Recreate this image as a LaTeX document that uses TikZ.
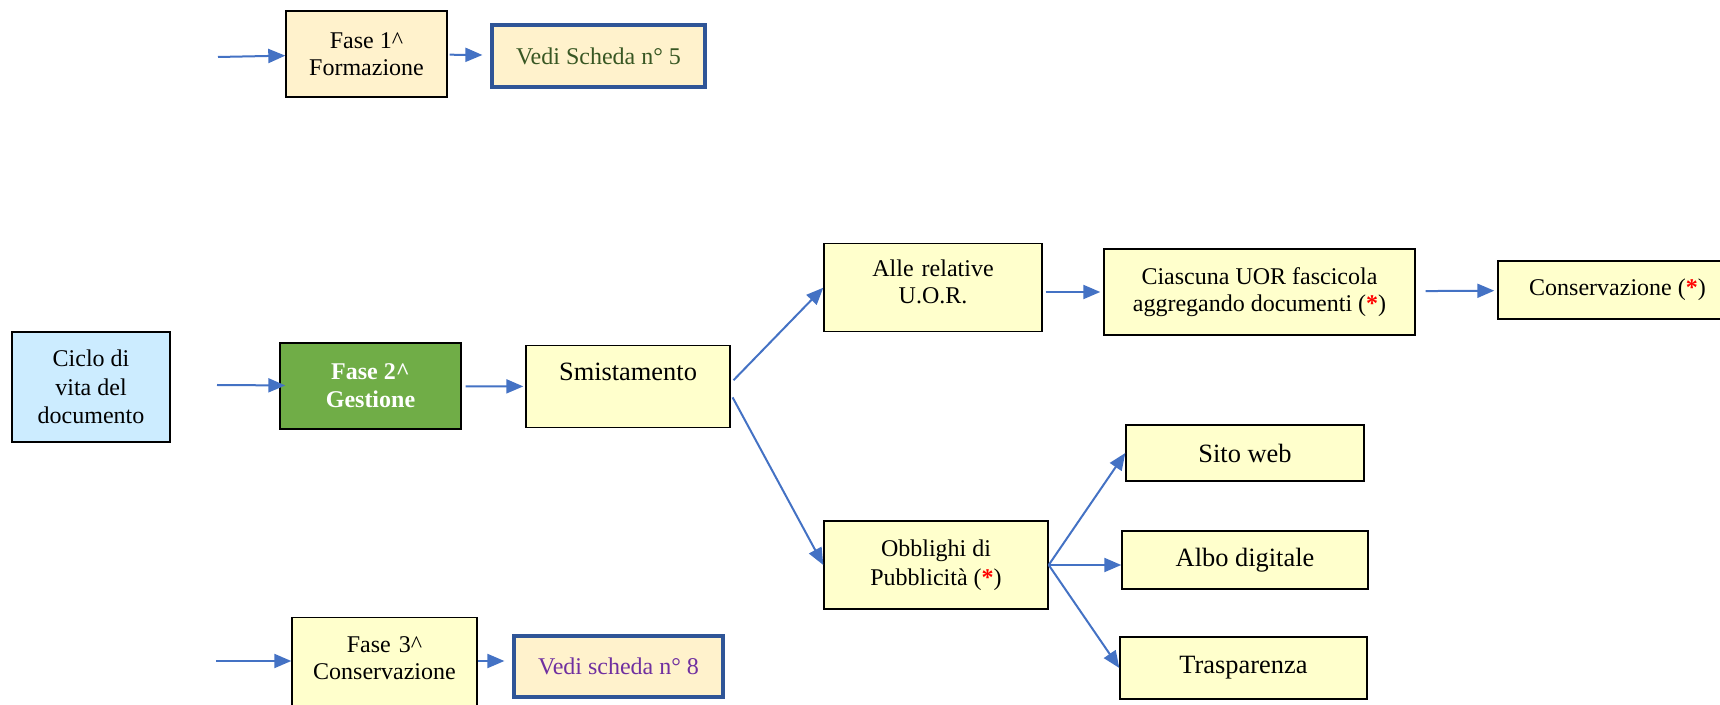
\documentclass[tikz,border=0pt]{standalone}
\usepackage{fontspec}
\setmainfont{Liberation Serif}
\usetikzlibrary{arrows.meta}

\definecolor{cream}{HTML}{FFF2CC}
\definecolor{paleyellow}{HTML}{FFFFCC}
\definecolor{paleblue}{HTML}{CCECFF}
\definecolor{fasegreen}{HTML}{70AD47}
\definecolor{arrowblue}{HTML}{4472C4}
\definecolor{frameblue}{HTML}{2F5597}
\definecolor{schedagreen}{HTML}{385723}
\definecolor{schedapurple}{HTML}{7030A0}
\newcommand{\redstar}{\textcolor{red}{\textbf{*}}}

\begin{document}
\begin{tikzpicture}[x=0.5pt, y=-0.5pt,
    box/.style={draw=black, line width=0.7pt, fill=paleyellow, align=center,
        inner sep=0pt, font=\fontsize{12}{13.5}\selectfont},
    bigbox/.style={box, font=\fontsize{13.2}{15}\selectfont},
    schedabox/.style={box, fill=cream, draw=frameblue, line width=1.6pt},
    flow/.style={draw=arrowblue, line width=1pt, -{Triangle[length=8.5pt, width=7pt]}}]

    \useasboundingbox (0,0) rectangle (1720,705);

    % Fase 1
    \coordinate (in1) at (218,57);
    \node[box, fill=cream, minimum width=80.5pt, minimum height=43pt] (fase1) at (366.5,54) {Fase 1\textasciicircum\\Formazione};
    \node[schedabox, text=schedagreen, minimum width=106.5pt, minimum height=31pt] (scheda5) at (598.5,56) {Vedi Scheda n° 5};

    % Fase 2
    \node[box, fill=paleblue, minimum width=79pt, minimum height=55pt, font=\fontsize{12}{14.25}\selectfont] (ciclo) at (91,387) {Ciclo di\\vita del\\documento};
    \coordinate (in2) at (217,385);
    \node[box, fill=fasegreen, text=white, font=\fontsize{12}{14}\selectfont\bfseries, minimum width=90.5pt, minimum height=43pt] (fase2) at (370.5,386) {Fase 2\textasciicircum\\Gestione};
    \node[bigbox, anchor=north, minimum width=102pt, text height=17.5pt, text depth=23.5pt] (smist) at (628,345) {Smistamento};
    \node[box, anchor=north, text width=109pt, text height=16.5pt, text depth=27.5pt] (alle) at (933,243) {Alle relative\\U.O.R.};
    \node[box, minimum width=155.5pt, minimum height=43pt] (ciasc) at (1259.5,292) {Ciascuna UOR fascicola\\aggregando documenti (\redstar)};
    \node[box, minimum width=119.5pt, minimum height=29pt] (cons) at (1617.5,290) {Conservazione (\redstar)};
    \node[box, minimum width=112pt, minimum height=44pt, font=\fontsize{12}{14.5}\selectfont] (obbl) at (936,565) {Obblighi di\\Pubblicità (\redstar)};
    \node[bigbox, minimum width=119pt, minimum height=28pt] (sito) at (1245,453) {Sito web};
    \node[bigbox, minimum width=123pt, minimum height=29pt] (albo) at (1245,560) {Albo digitale};
    \node[bigbox, minimum width=123.5pt, minimum height=31pt] (trasp) at (1243.5,668) {Trasparenza};

    % Fase 3
    \coordinate (in3) at (216,661);
    \node[box, anchor=north, text width=92.5pt, text height=17.5pt, text depth=39pt] (fase3) at (384.5,617) {Fase 3\textasciicircum\\Conservazione};
    \node[schedabox, text=schedapurple, minimum width=104.5pt, minimum height=30.5pt] (scheda8) at (618.5,666.5) {Vedi scheda n° 8};

    % Draw arrows
    \draw[flow] (in1) -- (fase1);
    \draw[flow, shorten <=1pt, shorten >=4pt] (fase1) -- (scheda5);
    \draw[flow, shorten >=-3pt] (in2) -- (fase2);
    \draw[flow, shorten <=2pt, shorten >=1pt] (fase2) -- (smist);
    \draw[flow, shorten <=2pt] (smist.2) -- (alle.west);
    \draw[flow, shorten <=2pt] (smist.-4) -- (obbl.west);
    \draw[flow, shorten <=1.5pt, shorten >=1.5pt] (alle.east |- ciasc.west) -- (ciasc.west);
    \draw[flow, shorten <=5pt, shorten >=1.5pt] (ciasc) -- (cons);
    \draw[flow] (obbl.east) -- (sito.west);
    \draw[flow] (obbl.east) -- (albo.west |- obbl.east);
    \draw[flow] (obbl.east) -- (trasp.west);
    \draw[flow] (in3) -- (fase3.west |- in3);
    \draw[flow, shorten >=4pt] (fase3.east |- in3) -- (scheda8.west |- in3);

\end{tikzpicture}
\end{document}
